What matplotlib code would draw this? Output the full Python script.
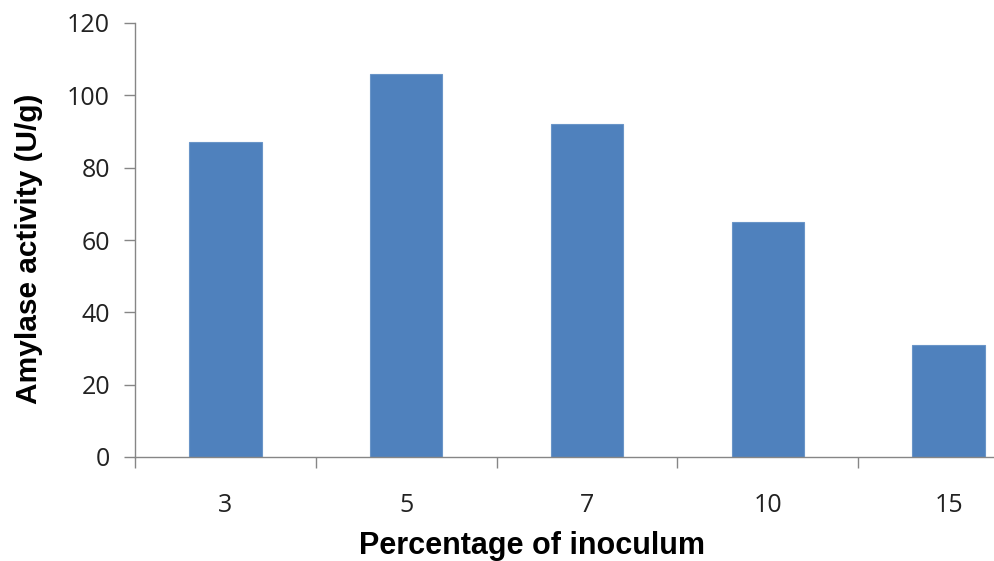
import matplotlib.pyplot as plt
import numpy as np

# Inoculum percentage vs amylase activity
categories = ["3", "5", "7", "10", "15"]
activity = [87, 106, 92, 65, 31]
yticks = [0, 20, 40, 60, 80, 100, 120]

fig = plt.figure(figsize=(9.95, 5.61), dpi=100)
# axes runs past the right edge, like the original (clipped) chart
ax = fig.add_axes([135 / 995, 104 / 561, 904 / 995, 434 / 561])

x = np.arange(len(categories))
ax.bar(x, activity, width=0.4, color="#4F81BD", edgecolor="#6A95C8", linewidth=0.8, zorder=2)

ax.set_xlim(-0.5, len(categories) - 0.5)
ax.set_ylim(0, 120)
ax.set_yticks(yticks)
ax.set_yticklabels([str(v) for v in yticks], fontsize=18, family="Open Sans", color="#222222")

# category labels in between boundary ticks
ax.set_xticks(np.arange(len(categories) + 1) - 0.5)
ax.set_xticklabels([])
ax.set_xticks(x, minor=True)
ax.set_xticklabels(categories, minor=True, fontsize=18, family="Open Sans", color="#222222")
ax.tick_params(axis="x", which="major", length=8, width=1, color="#868686", direction="out")
ax.tick_params(axis="x", which="minor", length=0, pad=26)
ax.tick_params(axis="y", length=8, width=1, color="#868686", pad=10)

for side in ["top", "right"]:
    ax.spines[side].set_visible(False)
for side in ["left", "bottom"]:
    ax.spines[side].set_color("#868686")
    ax.spines[side].set_linewidth(1)

ax.set_xlabel("Percentage of inoculum", fontsize=22, fontweight="bold", family="Liberation Sans")
ax.set_ylabel("Amylase activity (U/g)", fontsize=21.5, fontweight="bold", family="Liberation Sans")
ax.xaxis.set_label_coords(397 / 904, -0.170)
ax.yaxis.set_label_coords(-0.102, 0.479)

fig.savefig("out.png", dpi=100)
